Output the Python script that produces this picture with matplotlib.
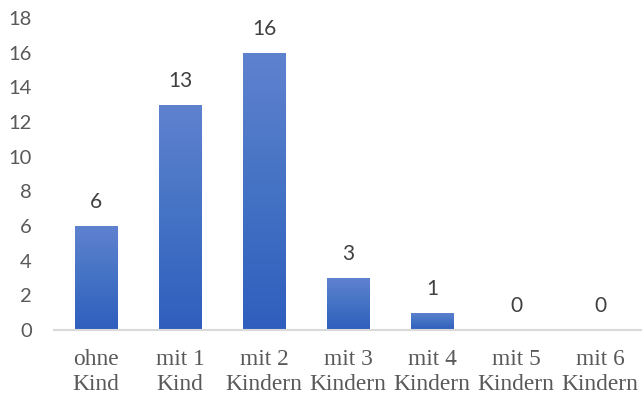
import numpy as np
import matplotlib
matplotlib.use('Agg')
import matplotlib.pyplot as plt
from matplotlib.colors import LinearSegmentedColormap

categories = ["ohne\nKind", "mit 1\nKind", "mit 2\nKindern", "mit 3\nKindern",
              "mit 4\nKindern", "mit 5\nKindern", "mit 6\nKindern"]
counts = [6, 13, 16, 3, 1, 0, 0]
y_ticks = list(range(0, 19, 2))

W, H = 642, 401
fig = plt.figure(figsize=(W / 100, H / 100), dpi=100)
ax = fig.add_axes([54 / W, 1 - 330 / H, 1 - 54 / W, (330 - 18) / H])

# gradient fill, lighter at top like the Excel default style
grad = LinearSegmentedColormap.from_list('bluegrad', ['#2F5EBE', '#4472C4', '#5F82CF'])
x = np.arange(len(categories))
bars = ax.bar(x, counts, width=0.51, color='#4472C4', zorder=2)
for bar, val in zip(bars, counts):
    if val <= 0:
        continue
    x0 = bar.get_x()
    w = bar.get_width()
    img = ax.imshow(np.linspace(0, 1, 256).reshape(-1, 1), cmap=grad, origin='lower',
                    extent=[x0, x0 + w, 0, val], aspect='auto', zorder=3)
    img.set_clip_path(bar)

for xi, val in zip(x, counts):
    ax.annotate(str(val), (xi, val), xytext=(0, 24), textcoords='offset pixels',
                ha='center', va='center', fontsize=15, family='Lato', color='#404040')

ax.set_xlim(-0.5, len(categories) - 0.5)
ax.set_ylim(0, 18)
ax.set_yticks(y_ticks)
ax.set_yticklabels([str(t) for t in y_ticks], fontsize=14.5, family='Lato', color='#595959')
ax.set_xticks(x)
ax.set_xticklabels(categories, fontsize=16.8, family='Liberation Serif', color='#595959',
                   linespacing=1.25)
ax.tick_params(axis='both', length=0)
ax.tick_params(axis='x', pad=14)
ax.tick_params(axis='y', pad=16)

for s in ['top', 'right', 'left']:
    ax.spines[s].set_visible(False)
ax.spines['bottom'].set_color('#D9D9D9')
ax.spines['bottom'].set_linewidth(1.5)
ax.spines['bottom'].set_zorder(4)

fig.savefig('out.png', dpi=100)
